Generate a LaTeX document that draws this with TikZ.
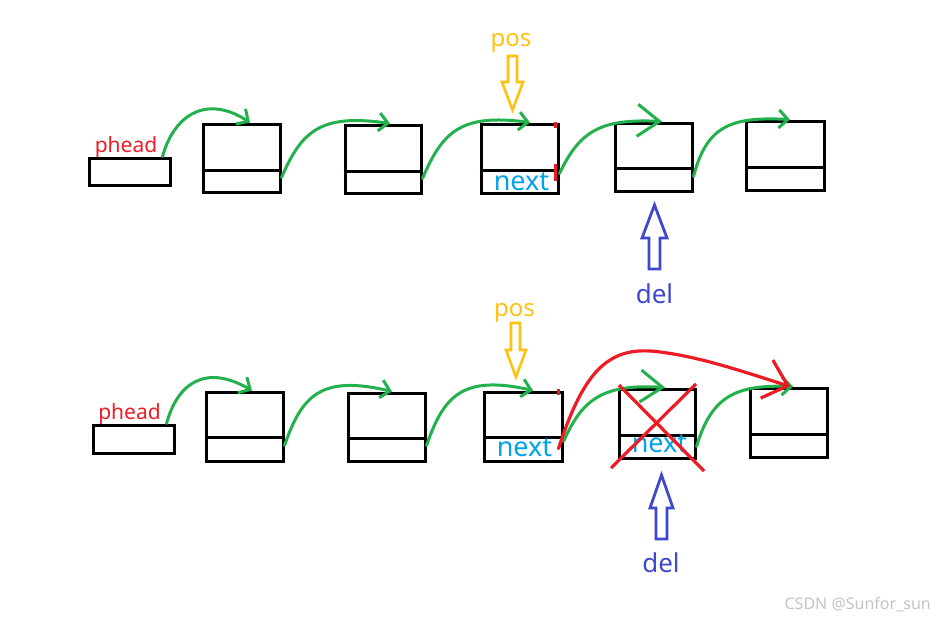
\documentclass[tikz,border=0pt]{standalone}
\usepackage{fontspec}
\setmainfont{Noto Sans}
\usetikzlibrary{arrows.meta}
\definecolor{ptgreen}{HTML}{22B14C}
\definecolor{ptred}{HTML}{ED1C24}
\definecolor{ptblue}{HTML}{00A2E8}
\definecolor{ptgold}{HTML}{FFC20E}
\definecolor{ptindigo}{HTML}{3F48CC}
\definecolor{wmgray}{HTML}{C4C4C4}
\begin{document}
\begin{tikzpicture}[x=1pt,y=-1pt,
  cell/.style={draw=black, line width=3pt, inner sep=0pt, minimum width=77pt, minimum height=68pt},
  headcell/.style={draw=black, line width=3pt, inner sep=0pt, minimum width=81pt, minimum height=27pt},
  divider/.style={draw=black, line width=3pt},
  link/.style={draw=ptgreen, line width=3pt, line cap=round, -{Straight Barb[length=9pt,width=18pt]}},
  biglink/.style={draw=ptgreen, line width=3pt, line cap=round, -{Straight Barb[length=22pt,width=32pt]}},
  relink/.style={draw=ptred, line width=3.2pt, line cap=round, -{Straight Barb[length=22pt,width=40pt]}},
  cross/.style={draw=ptred, line width=3.2pt},
  redtick/.style={draw=ptred, line width=3pt},
  headlbl/.style={text=ptred, font=\fontsize{21}{21}\selectfont, anchor=base, inner sep=0pt},
  nextlbl/.style={text=ptblue, font=\fontsize{27}{27}\selectfont, anchor=base, inner sep=0pt},
  poslbl/.style={text=ptgold, font=\fontsize{24}{24}\selectfont, anchor=base, inner sep=0pt},
  dellbl/.style={text=ptindigo, font=\fontsize{26}{26}\selectfont, anchor=base, inner sep=0pt},
  posarrow/.style={draw=ptgold, line width=2.6pt, line join=miter},
  delarrow/.style={draw=ptindigo, line width=2.8pt, line join=miter}
]
\useasboundingbox (0,0) rectangle (936,618);

% ---------- upper list ----------
\node[headcell] (ph1) at (129.5,171.5) {};
\node[cell] (t1) at (241.5,158) {};
\node[cell, minimum width=76pt] (t2) at (383,159) {};
\node[cell, minimum height=69pt] (t3) at (519.5,158.5) {};
\node[cell] (t4) at (653.5,157) {};
\node[cell, minimum width=78pt, minimum height=69pt] (t5) at (785,155.5) {};
\draw[divider] ([yshift=23pt]t1.south west) -- ([yshift=23pt]t1.south east);
\draw[divider] ([yshift=23pt]t2.south west) -- ([yshift=23pt]t2.south east);
\draw[divider] ([yshift=24pt]t3.south west) -- ([yshift=24pt]t3.south east);
\draw[divider] ([yshift=24pt]t4.south west) -- ([yshift=24pt]t4.south east);
\draw[divider] ([yshift=24pt]t5.south west) -- ([yshift=24pt]t5.south east);

\node[headlbl] (lph1) at (126,152) {phead};
\node[nextlbl] (ln1) at (521.5,190) {next};
\node[poslbl] (lpos1) at (511,46) {pos};
\node[dellbl] (ldel1) at (654.5,303) {del};

\draw[posarrow] (508,56) -- (517,56) -- (517,82) -- (523,82) -- (512.5,110) -- (502,82) -- (508,82) -- cycle;
\draw[delarrow] (654.5,205) -- (667,238) -- (660,238) -- (660,269) -- (649,269) -- (649,238) -- (642,238) -- cycle;

\draw[redtick] (555,122) -- (555,128);
\draw[redtick] (555,164) -- (555,181);

\draw[link] ([xshift=-9pt]ph1.north east) .. controls +(11,-40) and +(-45,-29) .. ([xshift=8.5pt]t1.north);
\draw[link] ([yshift=16pt]t1.south east) .. controls +(20,-46) and +(-70,-10) .. ([xshift=7pt]t2.north);
\draw[link] ([yshift=16pt]t2.south east) .. controls +(20,-47) and +(-69,-9) .. ([xshift=10.5pt]t3.north);
\draw[biglink] ([yshift=21pt]t3.south east) .. controls +(20,-42) and +(-62,-3) .. ([xshift=8.5pt]t4.north);
\draw[link] ([yshift=16pt]t4.south east) .. controls +(13,-50) and +(-60,-3) .. ([xshift=5pt]t5.north);

% ---------- lower list ----------
\node[headcell, minimum height=28pt] (ph2) at (133.5,439) {};
\node[cell, minimum height=69pt] (b1) at (244.5,426.5) {};
\node[cell] (b2) at (386.5,427) {};
\node[cell, minimum width=78pt, minimum height=69pt] (b3) at (523,426.5) {};
\node[cell, minimum width=76pt, minimum height=69pt] (b4) at (657,423.5) {};
\node[cell, minimum height=69pt] (b5) at (788.5,422.5) {};
\draw[divider] ([yshift=25pt]b1.south west) -- ([yshift=25pt]b1.south east);
\draw[divider] ([yshift=24pt]b2.south west) -- ([yshift=24pt]b2.south east);
\draw[divider] ([yshift=25pt]b3.south west) -- ([yshift=25pt]b3.south east);
\draw[divider] ([yshift=24pt]b4.south west) -- ([yshift=24pt]b4.south east);
\draw[divider] ([yshift=24pt]b5.south west) -- ([yshift=24pt]b5.south east);

\node[headlbl] (lph2) at (129.5,419) {phead};
\node[nextlbl] (ln2) at (524.5,456) {next};
\node[nextlbl] (ln3) at (659.5,452) {next};
\node[poslbl] (lpos2) at (514.5,316) {pos};
\node[dellbl] (ldel2) at (661,572) {del};

\draw[posarrow] (511,323) -- (520,323) -- (520,350) -- (526,350) -- (516,377) -- (506,350) -- (511,350) -- cycle;
\draw[delarrow] (661.5,475) -- (673,508) -- (667,508) -- (667,539) -- (656,539) -- (656,508) -- (650,508) -- cycle;

\draw[redtick] (558,389) -- (558,395);

\draw[link] ([xshift=-9pt]ph2.north east) .. controls +(11,-40) and +(-47,-27) .. ([xshift=7.5pt]b1.north);
\draw[link] ([yshift=17pt]b1.south east) .. controls +(17,-49) and +(-72,-17) .. ([xshift=5.5pt]b2.north);
\draw[link] ([yshift=17pt]b2.south east) .. controls +(17,-49) and +(-71,-16) .. ([xshift=10pt]b3.north);
\draw[biglink] ([yshift=21pt]b3.south east) .. controls +(18,-40) and +(-65,-4) .. ([xshift=8pt]b4.north);
\draw[link] ([yshift=13pt]b4.south east) .. controls +(15,-50) and +(-58,-2) .. ([xshift=4.5pt]b5.north);

% the removed node is crossed out
\draw[cross] (619,385) -- (704,471);
\draw[cross] (696,384) -- (611,468);

% new link that skips the removed node
\coordinate (arcTop) at (660,352);
\draw[relink] ([xshift=-5pt,yshift=14pt]b3.south east) .. controls +(26,-80) and +(-50,-7) .. (arcTop)
  .. controls +(40,5) and +(-50,-16) .. ([xshift=1.5pt]b5.north);

\node[text=wmgray, font=\fontsize{16}{16}\selectfont, anchor=base east, inner sep=0pt] (wm) at (931,609) {CSDN @Sunfor\_sun};
\end{tikzpicture}
\end{document}
